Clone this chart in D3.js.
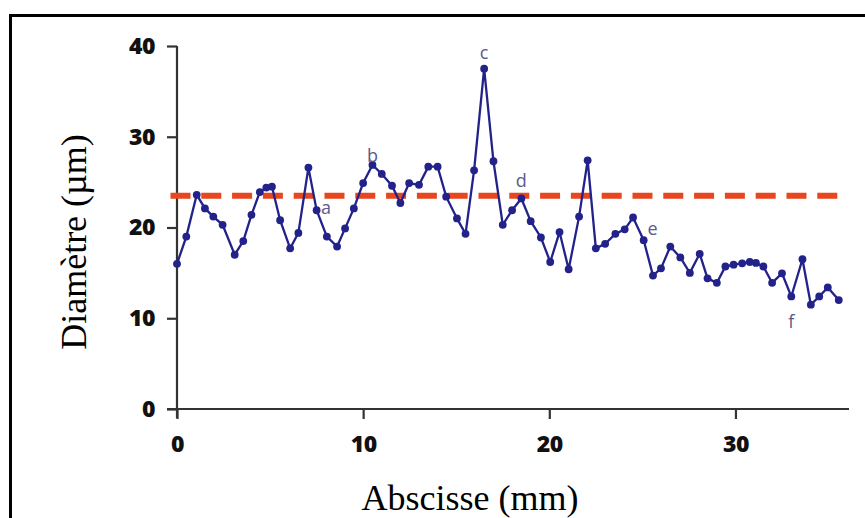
<!DOCTYPE html>
<html><head><meta charset="utf-8">
<script src="https://cdn.jsdelivr.net/npm/d3@7"></script>
<style>body{margin:0;background:#fff}</style>
</head><body>
<svg id="c" width="865" height="518"></svg>
<script>
const xs = [0,0.5,1.06,1.5,1.95,2.45,3.1,3.56,4.0,4.45,4.8,5.1,5.54,6.08,6.52,7.06,7.5,8.05,8.6,9.03,9.5,10.0,10.5,11.0,11.55,12.0,12.47,13.0,13.5,14.0,14.46,15.04,15.5,15.96,16.5,17.0,17.5,18.0,18.5,19.0,19.55,20.05,20.55,21.04,21.6,22.06,22.5,23.0,23.55,24.05,24.5,25.07,25.57,26.0,26.5,27.04,27.55,28.08,28.5,29.0,29.46,29.9,30.36,30.77,31.1,31.5,31.97,32.5,33.0,33.6,34.05,34.5,34.96,35.55];
const ys = [16.0,19.0,23.6,22.1,21.2,20.3,17.0,18.5,21.4,23.9,24.4,24.5,20.8,17.7,19.4,26.6,21.9,19.0,17.9,19.9,22.1,24.9,26.9,25.9,24.6,22.7,24.9,24.7,26.7,26.7,23.4,21.0,19.3,26.3,37.5,27.3,20.3,21.9,23.2,20.7,18.9,16.2,19.5,15.4,21.2,27.4,17.7,18.2,19.3,19.8,21.1,18.6,14.7,15.5,17.9,16.7,15.0,17.1,14.4,13.9,15.7,15.9,16.05,16.2,16.1,15.7,13.9,14.95,12.4,16.5,11.5,12.4,13.4,12.0];
const xTicks = [0,10,20,30];
const yTicks = [0,10,20,30,40];
const refValue = 23.5;
const refFrom = -0.35, refTo = 35.5;
const labelText = ["a","b","c","d","e","f"];
const labelX = [8.0,10.5,16.5,18.5,25.55,33.0];
const labelY = [22.3,28.0,39.3,25.2,20.0,9.7];

const svg = d3.select("#c");
const x = d3.scaleLinear().domain([0,36.1]).range([177,849]);
const y = d3.scaleLinear().domain([0,40]).range([409,46]);

// frame
svg.append("rect").attr("x",10.5).attr("y",15.5).attr("width",900).attr("height",600)
  .attr("fill","none").attr("stroke","#000").attr("stroke-width",3);

// axes
const gx = svg.append("g").attr("transform",`translate(0,${y(0)})`)
  .call(d3.axisBottom(x).tickValues(xTicks).tickSize(10).tickPadding(17).tickSizeOuter(0));
const gy = svg.append("g").attr("transform",`translate(${x(0)},0)`)
  .call(d3.axisLeft(y).tickValues(yTicks).tickSize(10).tickPadding(12).tickSizeOuter(0));
[gx,gy].forEach(g=>{
  g.select(".domain").attr("stroke","#333").attr("stroke-width",2.2);
  g.selectAll(".tick line").attr("stroke","#333").attr("stroke-width",2.2);
  g.selectAll(".tick text").attr("fill","#111").attr("font-family","'Open Sans', sans-serif")
    .attr("font-weight","800").attr("font-size",23).attr("letter-spacing",-0.5);
});
gy.select(".domain").attr("d",`M0,${y(0)+9}V${y(40)}`);
gx.select(".domain").attr("d",`M${x(0)-10},0H${x(36.1)}`);

// reference line
svg.append("line").attr("x1",x(refFrom)).attr("x2",x(refTo)).attr("y1",y(refValue)).attr("y2",y(refValue))
  .attr("stroke","#e8461e").attr("stroke-width",6).attr("stroke-dasharray","20,10.8");

// data line
const pts = xs.map((v,i)=>[v,ys[i]]);
svg.append("path").datum(pts).attr("fill","none").attr("stroke","#22228a").attr("stroke-width",2.3)
  .attr("d",d3.line().x(d=>x(d[0])).y(d=>y(d[1])));
svg.selectAll("circle.p").data(pts).enter().append("circle").attr("class","p")
  .attr("cx",d=>x(d[0])).attr("cy",d=>y(d[1])).attr("r",3.9).attr("fill","#22228a");

// annotations
svg.selectAll("text.lab").data(labelText).enter().append("text").attr("class","lab")
  .attr("x",(d,i)=>x(labelX[i])).attr("y",(d,i)=>y(labelY[i]))
  .attr("text-anchor","middle").attr("dominant-baseline","central")
  .attr("font-family","'Open Sans', sans-serif").attr("font-size",18).attr("fill","#5a5a8c").text(d=>d);

// axis titles
svg.append("text").attr("x",470).attr("y",510).attr("text-anchor","middle")
  .attr("font-family","'Liberation Serif','Times New Roman',serif").attr("font-size",36).text("Abscisse (mm)");
svg.append("text").attr("transform","translate(86,242) rotate(-90)").attr("text-anchor","middle")
  .attr("font-family","'Liberation Serif','Times New Roman',serif").attr("font-size",36).text("Diamètre (µm)");
</script>
</body></html>
